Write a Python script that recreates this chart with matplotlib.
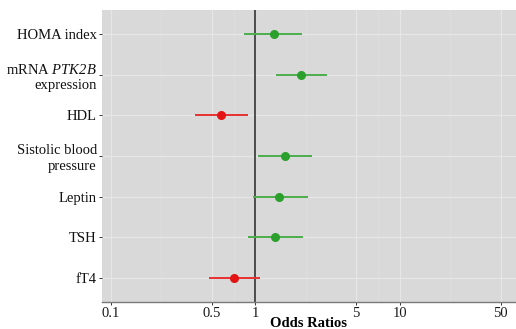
import numpy as np
import matplotlib
matplotlib.use('Agg')
import matplotlib.pyplot as plt

plt.rcParams['font.family'] = ['Liberation Serif', 'DejaVu Serif']
# only the PTK2B gene name uses mathtext, render all of it in italic
plt.rcParams['mathtext.fontset'] = 'custom'
plt.rcParams['mathtext.rm'] = 'Liberation Serif:italic'
plt.rcParams['mathtext.it'] = 'Liberation Serif:italic'

# data (top to bottom)
labels = ['HOMA index', 'mRNA $\\mathrm{PTK2B}$\nexpression', 'HDL',
          'Sistolic blood\npressure', 'Leptin', 'TSH', 'fT4']
odds = [1.35, 2.07, 0.58, 1.60, 1.46, 1.37, 0.71]
ci_low = [0.84, 1.39, 0.38, 1.04, 0.97, 0.89, 0.48]
ci_high = [2.12, 3.13, 0.89, 2.47, 2.32, 2.13, 1.07]
xticks = [0.1, 0.5, 1, 5, 10, 50]
xtick_labels = ['0.1', '0.5', '1', '5', '10', '50']

col_pos_pt = '#2ca02c'
col_pos_ln = '#4cae4c'
col_neg_pt = '#e41414'
col_neg_ln = '#e83030'

fig = plt.figure(figsize=(5.16, 3.29), dpi=100)
ax = fig.add_axes([0.197, 0.082, 0.803, 0.888])
ax.set_facecolor('#d9d9d9')

ypos = np.arange(len(labels))
ax.set_xscale('log')
ax.set_xlim(0.0862, 64.0)
ax.set_ylim(len(labels) - 0.4, -0.6)

# grid: major at ticks, minor at geometric midpoints
for xt in xticks:
    ax.axvline(xt, color='#e6e6e6', lw=0.9, zorder=1)
for a, b in zip(xticks[:-1], xticks[1:]):
    ax.axvline(np.sqrt(a * b), color='#e0e0e0', lw=0.5, zorder=1)
for y in ypos:
    ax.axhline(y, color='#e6e6e6', lw=0.9, zorder=1)

ax.axvline(1, color='#333333', lw=1.2, zorder=2)

for i in range(len(labels)):
    if odds[i] < 1:
        pc, lc = col_neg_pt, col_neg_ln
    else:
        pc, lc = col_pos_pt, col_pos_ln
    ax.plot([ci_low[i], ci_high[i]], [ypos[i], ypos[i]], color=lc, lw=1.4,
            zorder=3, solid_capstyle='butt')
    ax.plot(odds[i], ypos[i], 'o', color=pc, ms=5.5, zorder=4)

ax.set_xticks(xticks)
ax.set_xticklabels(xtick_labels, fontsize=10.5, color='#1a1a1a')
ax.xaxis.set_minor_locator(matplotlib.ticker.NullLocator())
ax.set_yticks(ypos)
ax.set_yticklabels(labels, fontsize=10.5, color='#111111', linespacing=1.25)
ax.tick_params(axis='both', length=2.5, width=0.7, color='#333333', pad=1)

for s in ['top', 'right', 'left']:
    ax.spines[s].set_visible(False)
ax.spines['bottom'].set_color('#7a7a7a')
ax.spines['bottom'].set_linewidth(1.0)

ax.set_xlabel('Odds Ratios', fontsize=10.5, fontweight='bold', labelpad=-2)

fig.savefig('out.png', dpi=100)
